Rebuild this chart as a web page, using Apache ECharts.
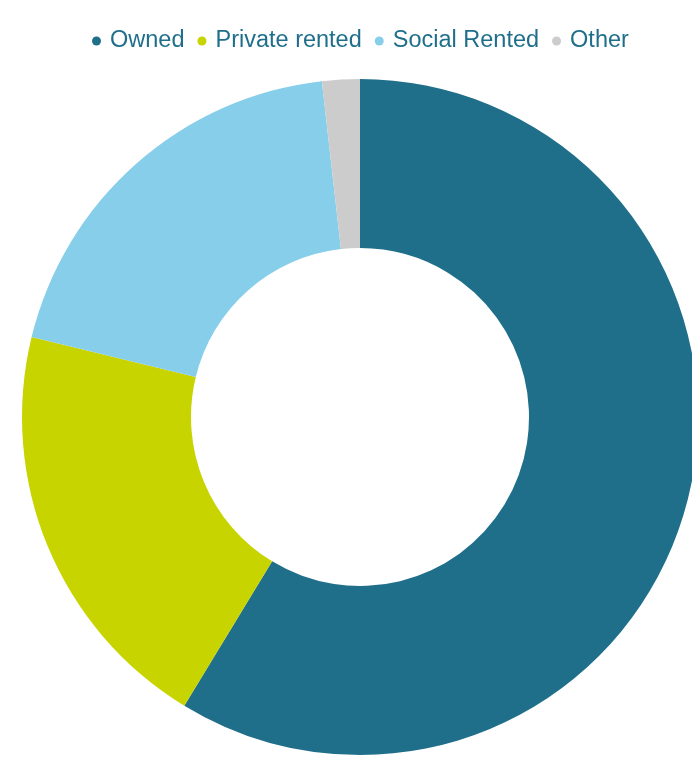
<!DOCTYPE html>
<html>
<head>
<meta charset="utf-8">
<script src="https://cdn.jsdelivr.net/npm/echarts@6/dist/echarts.min.js"></script>
<style>
  html, body { margin: 0; padding: 0; background: #fff; }
  #chart { width: 692px; height: 763px; }
</style>
</head>
<body>
<div id="chart"></div>
<script>
// tenure shares (percent)
const categories = ['Owned', 'Private rented', 'Social Rented', 'Other']
const values = [58.7, 20.1, 19.4, 1.8]
const colors = ['#1f6f8b', '#c8d400', '#87ceeb', '#cccccc']

let chart = echarts.init(document.getElementById('chart'))
chart.setOption({
    animation: false,
    color: colors,
    legend: {
        top: 24,
        left: 87,
        itemWidth: 9,
        itemHeight: 9,
        itemGap: 13,
        icon: 'circle',
        textStyle: {
            color: '#1f6f8b',
            fontSize: 23.5,
            fontFamily: 'Liberation Sans, Arial, sans-serif',
            padding: [0, 0, 0, 4]
        },
        data: categories
    },
    series: [{
        type: 'pie',
        center: [360, 417],
        radius: [169, 338],
        startAngle: 90,
        clockwise: true,
        label: { show: false },
        labelLine: { show: false },
        itemStyle: { borderWidth: 0 },
        emphasis: { disabled: true },
        data: categories.map((name, i) => ({ name: name, value: values[i] }))
    }]
})
</script>
</body>
</html>
